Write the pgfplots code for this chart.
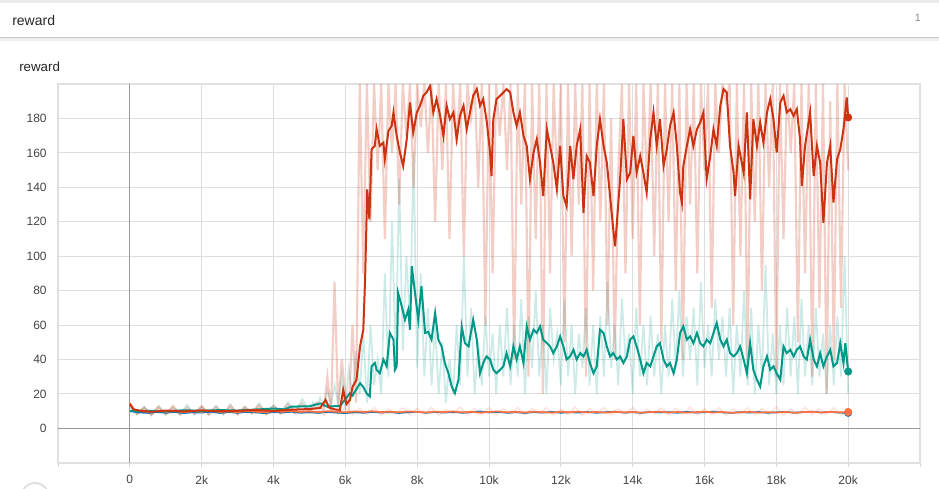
\documentclass[border=0pt]{standalone}
\usepackage{fontspec}
\setmainfont{Liberation Sans}
\usepackage{pgfplots}
\pgfplotsset{compat=1.18}
\definecolor{tbred}{HTML}{CC3311}
\definecolor{tbteal}{HTML}{009988}
\definecolor{tborange}{HTML}{FF7043}
\definecolor{tbblue}{HTML}{0077BB}
\definecolor{txt}{HTML}{444444}

\begin{document}
\begin{tikzpicture}
% page frame and header (pixel units)
\begin{scope}[x=0.75pt,y=0.75pt]
\path[use as bounding box, fill=white] (0,0) rectangle (939,487);
\fill[black!8] (0,484) rectangle (939,487);
\fill[black!6] (0,446) rectangle (939,449);
\draw[black!22, line width=0.75pt] (0,449.5) -- (939,449.5);
\node[anchor=west, inner sep=0, text=black!85, font=\fontsize{10.5}{12}\selectfont] at (12,467) {reward};
\node[anchor=east, inner sep=0, text=black!45, font=\fontsize{8}{10}\selectfont] at (921,469) {1};
\node[anchor=west, inner sep=0, text=black!85, font=\fontsize{10}{12}\selectfont] at (19,420) {reward};
\draw[black!12, line width=1.5pt] (35,-10) circle (14);
\end{scope}

\begin{axis}[
    at={(43.5pt,18.2pt)}, anchor=south west,
    scale only axis, width=646.5pt, height=284pt,
    xmin=-2000, xmax=22000, ymin=-20, ymax=200,
    xtick={-2000,0,2000,4000,6000,8000,10000,12000,14000,16000,18000,20000,22000},
    xticklabels={,0,2k,4k,6k,8k,10k,12k,14k,16k,18k,20k,},
    ytick={-20,0,20,40,60,80,100,120,140,160,180},
    yticklabels={,0,20,40,60,80,100,120,140,160,180},
    scaled x ticks=false,
    grid=major,
    grid style={black!13, line width=0.75pt},
    axis line style={draw=black!12, line width=1.5pt},
    tick align=outside, xtick pos=lower, ytick pos=left,
    major tick length=3pt,
    xtick style={black!15, line width=0.75pt},
    ytick style={draw=none},
    ticklabel style={font=\fontsize{9}{10}\selectfont, text=txt},
    xticklabel style={yshift=-3pt},
    yticklabel style={xshift=-2pt},
]
% axis lines through the origin
\addplot[black!40, line width=0.75pt] coordinates {(0,-20) (0,200)};
\addplot[black!40, line width=0.75pt] coordinates {(-2000,0) (22000,0)};

% ---- raw (unsmoothed) series, pale ----
\addplot[tborange, opacity=0.22, line width=0.9pt] coordinates {
(0,14)(200,8)(400,12)(600,7.5)(800,11.5)(1000,8.3)(1200,12.2)(1400,7.8)(1600,11)(1800,8.5)
(2000,12.5)(2200,7.6)(2400,11.2)(2600,8.2)(2800,12)(3000,7.9)(3200,11.6)(3400,8.4)(3600,12.3)(3800,7.7)
(4000,11.4)(4200,8.1)(4400,12.1)(4600,7.8)(4800,11.3)(5000,8.6)(5200,12.4)(5400,7.5)(5600,11.1)(5800,8.3)
(6000,12)(6200,7.9)(6400,11.5)(6600,8)(6800,12.2)(7000,7.6)(7200,11.2)(7400,8.4)(7600,11.9)(7800,7.7)
(8000,11.6)(8200,8.2)(8400,12.1)(8600,7.5)(8800,11)(9000,8.5)(9200,12.3)(9400,7.8)(9600,11.4)(9800,8.1)
(10000,12)(10200,7.6)(10400,11.3)(10600,8.3)(10800,12.2)(11000,7.9)(11200,11.5)(11400,8.4)(11600,12.1)(11800,7.7)
(12000,11.2)(12200,8)(12400,12.4)(12600,7.5)(12800,11.6)(13000,8.6)(13200,12)(13400,7.8)(13600,11.3)(13800,8.2)
(14000,12.2)(14200,7.6)(14400,11.1)(14600,8.4)(14800,11.9)(15000,7.9)(15200,11.5)(15400,8.1)(15600,12.3)(15800,7.7)
(16000,11.4)(16200,8.3)(16400,12.1)(16600,7.5)(16800,11.2)(17000,8.5)(17200,12)(17400,7.8)(17600,11.6)(17800,8)
(18000,12.4)(18200,7.6)(18400,11.3)(18600,8.2)(18800,12.2)(19000,7.9)(19200,11.5)(19400,8.4)(19600,12)(19800,7.7)(20000,10)
};
\addplot[tbteal, opacity=0.2, line width=1.3pt] coordinates {
(0,12)(200,8)(400,12.5)(600,7.5)(800,13)(1000,8)(1200,12)(1400,8.5)(1600,13.5)(1800,7.8)
(2000,12.5)(2200,8.2)(2400,13)(2600,8)(2800,14)(3000,8.5)(3200,12.5)(3400,8.8)(3600,14.5)(3800,8.5)
(4000,13.5)(4200,9)(4400,15)(4600,9.5)(4800,17)(5000,10)(5100,15)(5200,11)(5300,18)(5400,13)
(5500,22)(5600,14)(5700,25)(5800,15)(5900,30)(6000,12)(6100,35)(6200,18)(6300,45)(6400,20)
(6500,55)(6600,15)(6700,60)(6800,25)(6900,40)(7000,20)(7100,90)(7200,30)(7300,120)(7400,40)
(7500,145)(7600,45)(7700,100)(7800,60)(7900,160)(8000,35)(8100,90)(8200,30)(8300,70)(8400,25)
(8500,60)(8600,20)(8700,50)(8800,15)(8900,40)(9000,20)(9100,60)(9200,25)(9300,100)(9400,30)
(9500,70)(9600,20)(9700,50)(9800,25)(9900,65)(10000,30)(10100,55)(10200,20)(10300,60)(10400,30)
(10500,70)(10600,25)(10700,60)(10800,30)(10900,75)(11000,20)(11100,65)(11200,35)(11300,80)(11400,30)
(11500,60)(11600,20)(11700,70)(11800,40)(11900,55)(12000,25)(12100,75)(12200,30)(12300,60)(12400,20)
(12500,55)(12600,35)(12700,70)(12800,25)(12900,60)(13000,20)(13100,65)(13200,30)(13300,85)(13400,35)
(13500,60)(13600,25)(13700,75)(13800,40)(13900,55)(14000,20)(14100,70)(14200,30)(14300,60)(14400,25)
(14500,65)(14600,30)(14700,55)(14800,20)(14900,60)(15000,30)(15100,75)(15200,35)(15300,80)(15400,30)
(15500,65)(15600,40)(15700,70)(15800,25)(15900,85)(16000,35)(16100,60)(16200,30)(16300,75)(16400,40)
(16500,65)(16600,30)(16700,70)(16800,20)(16900,60)(17000,30)(17100,80)(17200,25)(17300,70)(17400,20)
(17500,60)(17600,30)(17700,95)(17800,25)(17900,55)(18000,20)(18100,60)(18200,25)(18300,70)(18400,30)
(18500,65)(18600,20)(18700,75)(18800,30)(18900,60)(19000,25)(19100,70)(19200,30)(19300,55)(19400,20)
(19500,60)(19600,25)(19700,65)(19800,30)(19900,100)(20000,20)
};
\addplot[tbred, opacity=0.24, line width=1.6pt] coordinates {
(0,15)(200,8.5)(400,12)(600,8)(800,12.5)(1000,8.2)(1200,13)(1400,8)(1600,12)(1800,8.6)
(2000,13)(2200,8.2)(2400,12.5)(2600,8.5)(2800,13)(3000,8.1)(3200,12.4)(3400,8.8)(3600,13.5)(3800,8.4)
(4000,13)(4200,8.9)(4400,14)(4600,9)(4800,14.5)(5000,9.5)(5200,15)(5400,10)(5500,30)(5600,10)
(5700,85)(5800,12)(5900,40)(6000,20)(6100,12)(6200,60)(6300,15)(6400,200)(6500,90)(6600,200)
(6700,120)(6800,200)(6900,150)(7000,200)(7100,110)(7200,200)(7300,160)(7400,200)(7500,130)(7600,200)
(7700,170)(7800,200)(7900,140)(8000,200)(8100,175)(8200,200)(8300,160)(8400,200)(8500,120)(8600,200)
(8700,150)(8800,200)(8900,110)(9000,200)(9100,165)(9200,200)(9300,100)(9400,200)(9500,180)(9600,200)
(9700,140)(9800,200)(9900,60)(10000,200)(10100,90)(10200,200)(10300,170)(10400,200)(10500,150)(10600,200)
(10700,40)(10800,200)(10900,130)(11000,200)(11100,30)(11200,200)(11300,110)(11400,200)(11500,20)(11600,200)
(11700,90)(11800,200)(11900,140)(12000,200)(12100,50)(12200,200)(12300,100)(12400,200)(12500,130)(12600,200)
(12700,30)(12800,200)(12900,80)(13000,200)(13100,120)(13200,200)(13300,60)(13400,180)(13500,40)(13600,150)
(13700,200)(13800,90)(13900,200)(14000,110)(14100,200)(14200,60)(14300,200)(14400,140)(14500,200)(14600,100)
(14700,200)(14800,50)(14900,200)(15000,120)(15100,200)(15200,80)(15300,200)(15400,40)(15500,200)(15600,130)
(15700,200)(15800,90)(15900,200)(16000,150)(16100,200)(16200,70)(16300,200)(16400,160)(16500,200)(16600,190)
(16700,200)(16800,60)(16900,200)(17000,100)(17100,200)(17200,40)(17300,200)(17400,120)(17500,200)(17600,80)
(17700,200)(17800,140)(17900,200)(18000,30)(18100,200)(18200,110)(18300,200)(18400,160)(18500,200)(18600,50)
(18700,200)(18800,90)(18900,200)(19000,30)(19100,200)(19200,70)(19300,200)(19400,20)(19500,190)(19600,40)
(19700,200)(19800,70)(19900,200)(20000,150)
};

% ---- smoothed series ----
\addplot[tbblue, line width=1.2pt] coordinates {
(0,10)(250,9.2)(500,8.9)(750,9.4)(1000,9)(1250,9.5)(1500,8.8)(1750,9.3)(2000,9.1)(2250,9.6)(2500,8.9)
(2750,9.4)(3000,9)(3250,9.5)(3500,9.2)(3750,8.8)(4000,9.4)(4250,9.1)(4500,9.6)(4750,9)(5000,9.3)
(5250,8.9)(5500,9.5)(5750,9.1)(6000,8.8)(6250,9.3)(6500,9)(6750,9.5)(7000,9.1)(7250,9.4)(7500,8.9)
(7750,9.3)(8000,9.6)(8250,9)(8500,9.4)(8750,9.1)(9000,9.5)(9250,9)(9500,9.3)(9750,9.8)(10000,9.2)
(10250,9.5)(10500,9)(10750,9.3)(11000,8.9)(11250,9.4)(11500,9.1)(11750,9.6)(12000,9)(12250,9.3)(12500,9.1)
(12750,9.5)(13000,9)(13250,9.4)(13500,9.7)(13750,9.1)(14000,9.3)(14250,9)(14500,9.5)(14750,9.2)(15000,9.4)
(15250,9)(15500,9.6)(15750,9.1)(16000,9.3)(16250,9.7)(16500,9.2)(16750,9)(17000,9.4)(17250,9.1)(17500,9.5)
(17750,9)(18000,9.3)(18250,9.6)(18500,9.1)(18750,9.4)(19000,9.7)(19250,9.2)(19500,9.5)(19750,9.1)(20000,9)
};
\addplot[tborange, line width=1.3pt] coordinates {
(0,14.5)(100,11)(250,10)(500,9.6)(750,10.2)(1000,9.5)(1250,10.1)(1500,9.4)(1750,9.9)(2000,9.6)
(2250,10.3)(2500,9.5)(2750,9.8)(3000,9.4)(3250,10)(3500,9.7)(3750,9.3)(4000,9.9)(4250,9.6)(4500,10.1)
(4750,9.5)(5000,9.8)(5250,9.4)(5500,9.9)(5750,9.6)(6000,9.3)(6250,9.8)(6500,9.5)(6750,9.9)(7000,9.4)
(7250,9.7)(7500,9.3)(7750,9.8)(8000,9.6)(8250,9.2)(8500,9.7)(8750,9.4)(9000,9.8)(9250,9.3)(9500,9.6)
(9750,9.1)(10000,9.5)(10250,9.8)(10500,9.3)(10750,9.6)(11000,9.2)(11250,9.7)(11500,9.4)(11750,9.1)(12000,9.6)
(12250,9.3)(12500,9.7)(12750,9.2)(13000,9.5)(13250,9.1)(13500,9.6)(13750,9.3)(14000,9.5)(14250,9.1)(14500,9.4)
(14750,9.7)(15000,9.2)(15250,9.5)(15500,9.1)(15750,9.4)(16000,9.6)(16250,9.2)(16500,9.5)(16750,9)(17000,9.3)
(17250,9.6)(17500,9.1)(17750,9.4)(18000,9.2)(18250,9.5)(18500,9)(18750,9.4)(19000,9.6)(19250,9.2)(19500,9.5)
(19750,9.3)(20000,9.5)
};
\addplot[tbteal, line width=1.5pt] coordinates {
(0,10)(500,10.2)(1000,9.8)(1500,10.5)(2000,10.1)(2500,10.6)(3000,10.3)(3500,10.9)(4000,11.5)(4300,11)
(4500,12.6)(5000,12.8)(5300,14.5)(5500,12.5)(5570,12.7)(5850,13)(6130,20.4)(6200,19)(6410,26.2)(6500,24)
(6590,20.4)(6680,18.5)(6730,36)(6820,38)(6870,34)(6960,32)(7060,40)(7150,36)(7240,55.4)(7340,51.5)
(7380,34)(7430,36)(7470,78.6)(7570,70.9)(7660,63.1)(7750,68.9)(7800,57.3)(7850,94.2)(7940,78.6)(8030,63.1)
(8120,82.5)(8220,55.4)(8310,56)(8400,51.5)(8500,67)(8590,51.5)(8680,47.6)(8770,37.9)(8870,32)(8960,24.3)
(9050,20.4)(9150,28.2)(9240,59.2)(9330,49.5)(9430,47.6)(9560,63.1)(9660,51.5)(9750,32)(9840,37.9)(9930,41.8)
(10030,40)(10120,34)(10210,32)(10310,34)(10400,36)(10490,43.7)(10590,36)(10680,47.6)(10770,40)(10860,47.6)
(10960,37.9)(11050,59.2)(11140,51.5)(11240,57.3)(11330,55.4)(11420,59.2)(11510,51.5)(11610,49.5)(11700,47.6)(11790,43.7)
(11890,47.6)(11980,53.4)(12070,47.6)(12160,40)(12260,41.8)(12350,45.6)(12440,40)(12540,43.7)(12630,41.8)(12720,45.6)
(12810,37.9)(12910,32)(13000,36)(13090,57.3)(13190,55.4)(13280,47.6)(13370,41.8)(13460,43.7)(13560,40)(13650,41.8)
(13740,37.9)(13840,41.8)(13930,51.5)(14020,53.4)(14110,47.6)(14210,40)(14300,32)(14390,37.9)(14490,36)(14580,41.8)
(14670,47.6)(14760,49.5)(14860,40)(14950,36)(15040,37.9)(15140,32)(15230,40)(15320,55.4)(15410,59.2)(15510,51.5)
(15600,53.4)(15690,49.5)(15790,55.4)(15880,49.5)(15970,47.6)(16060,51.5)(16160,49.5)(16250,55.4)(16340,61.2)(16440,51.5)
(16530,47.6)(16620,51.5)(16710,43.7)(16810,41.8)(16900,43.7)(16990,47.6)(17090,40)(17180,32)(17270,49.5)(17360,34)
(17460,28.2)(17550,24.3)(17640,36)(17740,41.8)(17830,34)(17920,36)(18010,32)(18110,28.2)(18200,47.6)(18290,43.7)
(18390,45.6)(18480,41.8)(18570,45.6)(18660,47.6)(18760,41.8)(18850,40)(18940,51.5)(19040,40)(19130,36)(19220,43.7)
(19310,36)(19410,41.8)(19500,45.6)(19590,36)(19690,37.9)(19780,49.5)(19870,37.9)(19920,49.5)(20000,33)
};
\addplot[tbred, line width=1.5pt] coordinates {
(0,14)(100,11)(300,10.2)(600,9.6)(1000,10.3)(1500,9.8)(2000,10.4)(2500,9.9)(3000,10.2)(3500,10.6)
(4000,10.1)(4500,10.8)(5000,11.2)(5300,11.8)(5450,16.5)(5550,12)(5700,11)(5850,10.7)(5940,22.4)(6030,14)
(6130,16.5)(6200,24)(6310,28.2)(6410,47.6)(6500,57.3)(6550,86.4)(6610,138.8)(6670,121.4)(6730,162.1)(6820,164.1)
(6870,173.8)(6960,164.1)(7060,166)(7100,156.3)(7200,172.8)(7290,175.7)(7340,183.5)(7430,169.9)(7520,160.2)(7610,152.4)
(7710,168)(7800,189.3)(7890,171.8)(7990,183.5)(8080,187.4)(8170,193.2)(8260,195.1)(8360,199)(8450,183.5)(8540,191.3)
(8640,181.5)(8730,169.9)(8820,187.4)(8910,179.6)(9010,183.5)(9100,168)(9190,181.5)(9290,187.4)(9380,173.8)(9470,183.5)
(9560,193.2)(9660,197.1)(9750,187.4)(9840,191.3)(9940,177.7)(10030,160.2)(10070,146.6)(10120,179.6)(10210,191.3)(10310,193.2)
(10400,195.1)(10490,197.1)(10590,195.1)(10680,183.5)(10770,175.7)(10860,183.5)(10960,169.9)(11050,164.1)(11140,144.7)(11240,160.2)
(11330,168)(11420,154.4)(11510,135)(11610,173.8)(11700,164.1)(11790,154.4)(11890,138.8)(11980,164.1)(12070,135)(12160,129.1)
(12260,164.1)(12350,144.7)(12440,164.1)(12540,173.8)(12630,125.2)(12720,158.2)(12810,154.4)(12910,135)(13000,164.1)(13090,179.6)
(13190,164.1)(13280,154.4)(13370,135)(13460,115.5)(13510,105.8)(13560,119.4)(13650,144.7)(13740,179.6)(13840,144.7)(13930,148.5)
(14020,169.9)(14110,148.5)(14210,158.2)(14300,148.5)(14390,136.9)(14490,168)(14580,183.5)(14670,164.1)(14760,179.6)(14860,152.4)
(14950,162.1)(15040,175.7)(15140,183.5)(15230,164.1)(15320,136.9)(15370,131.1)(15410,152.4)(15510,164.1)(15600,173.8)(15690,164.1)
(15790,173.8)(15880,177.7)(15970,183.5)(16060,144.7)(16160,158.2)(16250,173.8)(16340,164.1)(16440,187.4)(16530,197.1)(16620,195.1)
(16710,164.1)(16810,148.5)(16850,135)(16950,164.1)(17090,148.5)(17180,183.5)(17270,133)(17360,179.6)(17460,164.1)(17550,177.7)
(17640,166)(17740,183.5)(17830,191.3)(17920,179.6)(18010,160.2)(18110,189.3)(18200,193.2)(18290,183.5)(18390,185.4)(18480,181.5)
(18570,185.4)(18660,168)(18710,140.8)(18800,164.1)(18940,183.5)(19040,146.6)(19130,164.1)(19220,154.4)(19310,119.4)(19410,154.4)
(19500,164.1)(19590,131.1)(19690,156.3)(19780,162.1)(19870,173.8)(19960,192.2)(20000,180.6)
};

% ---- end-point markers ----
\addplot[only marks, mark=*, mark size=2.8pt, tbblue] coordinates {(20000,9)};
\addplot[only marks, mark=*, mark size=2.8pt, tborange] coordinates {(20000,9.5)};
\addplot[only marks, mark=*, mark size=2.8pt, tbteal] coordinates {(20000,33)};
\addplot[only marks, mark=*, mark size=2.8pt, tbred] coordinates {(20000,180.6)};
\end{axis}
\end{tikzpicture}
\end{document}
